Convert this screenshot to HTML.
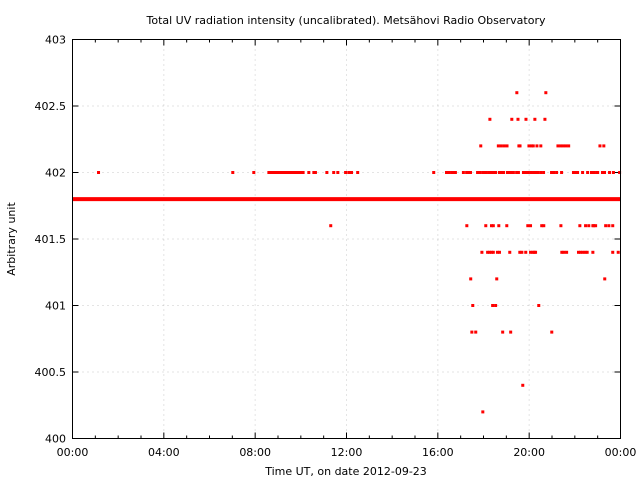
<!DOCTYPE html>
<html><head><meta charset="utf-8"><style>
body{margin:0;background:#fff}
svg text{font-family:"DejaVu Sans","Liberation Sans",sans-serif;font-size:11px;fill:#000}
</style></head><body>
<svg id="chart" width="640" height="480" xmlns="http://www.w3.org/2000/svg">
<rect width="640" height="480" fill="#fff"/>
<text x="346" y="24" text-anchor="middle">Total UV radiation intensity (uncalibrated). Metsähovi Radio Observatory</text>
<text x="346" y="475" text-anchor="middle">Time UT, on date 2012-09-23</text>
<text x="15" y="239" text-anchor="middle" transform="rotate(-90 15 239)">Arbitrary unit</text>
<g id="grid"></g><g id="axes"></g><g id="marks"></g>
<rect x="72.5" y="39.5" width="548" height="399" fill="none" stroke="#000" stroke-width="1"/>
</svg>
<script>
const xTickHours=[0,4,8,12,16,20,24];
const xTickLabels=["00:00","04:00","08:00","12:00","16:00","20:00","00:00"];
const yTicks=[400,400.5,401,401.5,402,402.5,403];
const yTickLabels=["400","400.5","401","401.5","402","402.5","403"];
const baselineValue=401.8;
const baselineStart=0, baselineEnd=24;
const t402=[1.14,7.02,7.94,8.60,8.67,8.75,8.82,8.89,8.99,9.11,9.18,9.28,9.37,9.47,9.55,9.62,9.69,9.81,9.91,9.99,10.10,10.35,10.57,10.64,11.14,11.44,11.62,11.96,12.10,12.18,12.22,12.49,15.82,16.38,16.47,16.60,16.69,16.77,17.12,17.26,17.34,17.43,17.74,17.83,17.96,18.04,18.09,18.22,18.35,18.44,18.53,18.70,18.79,18.88,19.05,19.14,19.27,19.31,19.45,19.53,19.75,19.84,19.93,20.06,20.19,20.28,20.37,20.50,20.63,20.98,21.07,21.20,21.42,21.94,22.03,22.12,22.34,22.56,22.73,22.82,22.95,23.00,23.21,23.30,23.52,23.69,23.96];
const t4022=[17.88,18.65,18.77,18.90,19.03,19.55,19.60,19.99,20.10,20.18,20.34,20.51,21.26,21.38,21.49,21.61,21.73,23.10,23.27];
const t4024=[18.28,19.24,19.51,19.86,20.25,20.69];
const t4026=[19.46,20.73];
const t4016=[11.31,17.27,18.10,18.35,18.43,18.67,19.02,19.94,20.06,20.55,20.64,21.39,22.22,22.47,22.61,22.79,22.83,22.91,23.35,23.49,23.66];
const t4014=[17.93,18.18,18.26,18.35,18.43,18.61,18.70,19.15,19.59,19.68,19.85,20.06,20.16,20.22,20.28,21.43,21.52,21.64,22.16,22.25,22.35,22.45,22.54,22.79,23.66,23.90];
const t4012=[17.44,18.58,23.31];
const t4010=[17.53,18.40,18.53,20.42];
const t4008=[17.49,17.66,18.84,19.19,20.99];
const t4004=[19.72];
const t4002=[17.97];
const levelValues=[402,402.2,402.4,402.6,401.6,401.4,401.2,401.0,400.8,400.4,400.2];
const levelTimes=[t402,t4022,t4024,t4026,t4016,t4014,t4012,t4010,t4008,t4004,t4002];

const X0=72.5,X1=620.5,Y0=438.5,Y1=39.5;
const xs=h=>X0+(h-0)/24*(X1-X0);
const ys=v=>Y0-(v-400)/3*(Y0-Y1);
const NS="http://www.w3.org/2000/svg";
function mk(tag,attrs,parent){const e=document.createElementNS(NS,tag);for(const k in attrs)e.setAttribute(k,attrs[k]);parent.appendChild(e);return e;}
const grid=document.getElementById('grid'),axes=document.getElementById('axes'),marks=document.getElementById('marks');
xTickHours.forEach((h,i)=>{
  const x=xs(h);
  if(i>0&&i<xTickHours.length-1){const g=mk('line',{x1:x,x2:x,y1:Y1,y2:Y0,stroke:'#c8c8c8','stroke-dasharray':'1,4'},grid);
  
  }
  const t=mk('text',{x:x,y:456,'text-anchor':'middle'},axes);t.textContent=xTickLabels[i];
  
  
});
for(let h=0;h<=24;h++){const x=xs(h);const L=(h%4===0)?6:3;
  mk('line',{x1:x,x2:x,y1:Y0,y2:Y0-L,stroke:'#000'},axes);
  mk('line',{x1:x,x2:x,y1:Y1,y2:Y1+L,stroke:'#000'},axes);}
yTicks.forEach((v,i)=>{
  const y=ys(v);
  if(i>0&&i<yTicks.length-1){const g=mk('line',{x1:X0,x2:X1,y1:y,y2:y,stroke:'#c8c8c8','stroke-dasharray':'1,4'},grid);
  
  }
  mk('line',{x1:X0,x2:X0+6,y1:y,y2:y,stroke:'#000'},axes);
  mk('line',{x1:X1,x2:X1-6,y1:y,y2:y,stroke:'#000'},axes);
  const t=mk('text',{x:66,y:y+4,'text-anchor':'end'},axes);t.textContent=yTickLabels[i];
  
  
});
const bl=mk('line',{x1:xs(baselineStart),x2:xs(baselineEnd),y1:ys(baselineValue),y2:ys(baselineValue),stroke:'#ff0000','stroke-width':4},marks);


levelValues.forEach((v,i)=>{
  levelTimes[i].forEach(h=>{
    const p=mk('rect',{x:xs(h)-1.5,y:ys(v)-1.5,width:3,height:3,fill:'#ff0000'},marks);
    
    
  });
});
</script>
</body></html>
